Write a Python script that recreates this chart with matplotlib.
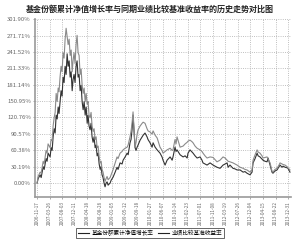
import matplotlib.pyplot as plt

plt.rcParams['font.family'] = ['Noto Sans CJK SC', 'DejaVu Sans']

# 交易日序号（从 2006-11-17 起）
days = [0, 7, 21, 28, 42, 49, 62, 69, 76, 90, 97, 104, 111, 118, 125, 132, 139, 146, 152, 159,
        166, 173, 180, 187, 194, 201, 208, 215, 222, 229, 236, 243, 249, 256, 263, 270, 277, 284, 291, 298,
        305, 312, 319, 326, 333, 340, 347, 353, 360, 367, 374, 381, 388, 395, 402, 409, 416, 423, 430, 437,
        444, 450, 457, 464, 471, 478, 485, 492, 506, 513, 527, 541, 554, 561, 575, 589, 596, 610, 624, 631,
        644, 651, 658, 665, 672, 679, 686, 693, 700, 714, 728, 735, 748, 762, 769, 783, 797, 804, 818, 832,
        845, 852, 866, 873, 887, 901, 922, 936, 942, 956, 963, 970, 991, 1012, 1026, 1040, 1046, 1060, 1074, 1081,
        1095, 1109, 1130, 1143, 1150, 1164, 1178, 1199, 1220, 1234, 1247, 1268, 1289, 1303, 1317, 1324, 1337, 1358, 1372, 1386,
        1407, 1428, 1441, 1455, 1476, 1490, 1497, 1511, 1525, 1532, 1545, 1559, 1566, 1580, 1594, 1601, 1615, 1628, 1635, 1649,
        1663, 1677, 1684, 1698, 1705, 1719, 1733, 1739, 1753]

# 基金份额累计净值增长率 (%)
fund = [0, 8, 15, 10, 30, 25, 45, 40, 55, 48, 65, 60, 85, 100, 92, 125, 118, 140, 128, 150,
        170, 160, 195, 185, 215, 200, 238, 215, 225, 195, 205, 170, 190, 200, 185, 215, 225, 195, 200, 170,
        180, 150, 135, 150, 125, 140, 110, 125, 105, 98, 110, 85, 75, 85, 65, 70, 50, 55, 35, 25,
        30, 15, 10, 0, -7, 0, 2, -4, 0, 5, 11, 20, 29, 25, 37, 35, 42, 48, 55, 52,
        74, 80, 98, 125, 95, 65, 60, 66, 70, 79, 85, 88, 92, 85, 80, 74, 66, 74, 66, 61,
        57, 55, 48, 42, 33, 42, 48, 42, 48, 66, 58, 61, 52, 48, 50, 46, 55, 61, 57, 55,
        50, 46, 48, 42, 37, 35, 33, 37, 33, 31, 29, 27, 33, 35, 37, 29, 33, 27, 26, 24,
        24, 20, 21, 18, 15, 20, 37, 45, 55, 50, 48, 44, 42, 40, 39, 46, 33, 20, 18, 22,
        24, 30, 33, 29, 31, 29, 28, 27, 20]

# 业绩比较基准收益率 (%)
bench = [0, 12, 20, 18, 40, 35, 60, 55, 72, 65, 80, 78, 105, 120, 130, 165, 150, 175, 168, 195,
         215, 205, 240, 230, 265, 285, 270, 255, 265, 235, 245, 205, 225, 240, 220, 255, 272, 240, 235, 200,
         210, 180, 165, 175, 150, 165, 145, 150, 125, 120, 130, 105, 95, 100, 80, 85, 65, 68, 48, 37,
         40, 25, 20, 10, 3, 8, 12, 6, 10, 15, 25, 37, 48, 45, 55, 58, 61, 64, 66, 70,
         85, 95, 110, 131, 100, 66, 75, 90, 98, 105, 110, 112, 110, 100, 96, 94, 90, 96, 88, 83,
         72, 66, 60, 55, 58, 61, 64, 60, 61, 80, 72, 85, 66, 68, 72, 75, 77, 79, 76, 74,
         68, 64, 61, 58, 55, 50, 46, 48, 47, 43, 39, 42, 48, 46, 42, 40, 39, 37, 35, 33,
         29, 27, 25, 24, 20, 24, 42, 52, 61, 57, 55, 50, 46, 47, 48, 44, 37, 22, 20, 25,
         27, 33, 37, 35, 34, 33, 30, 28, 24]

x_ticks = [0, 87, 174, 261, 348, 435, 522, 609, 696, 783, 870, 957, 1044, 1131, 1218, 1305,
           1392, 1479, 1566, 1653, 1740]
x_labels = ["2006-11-17", "2007-03-26", "2007-08-03", "2007-12-11", "2008-04-18", "2008-08-26",
            "2009-01-05", "2009-05-12", "2009-09-18", "2010-01-27", "2010-06-07", "2010-10-14",
            "2011-02-23", "2011-07-01", "2011-11-08", "2012-03-19", "2012-07-26", "2012-12-04",
            "2013-04-15", "2013-08-22", "2013-12-31"]
y_ticks = [0.00, 30.19, 60.38, 90.57, 120.76, 150.95, 181.14, 211.33, 241.52, 271.71, 301.90]

fig = plt.figure(figsize=(3.0, 2.42), dpi=100)
ax = fig.add_axes([0.117, 0.186, 0.853, 0.735])

l1, = ax.plot(days, fund, color="#333333", linewidth=0.8, label="基金份额累计净值增长率")
l2, = ax.plot(days, bench, color="#8a8a8a", linewidth=0.8, label="业绩比较基准收益率")

ax.set_xlim(-14, 1760)
ax.set_ylim(-25.8, 301.9)
ax.set_xticks(x_ticks)
ax.set_xticklabels(x_labels, rotation=90, fontsize=3.3, color="#666666")
ax.set_yticks(y_ticks)
ax.set_yticklabels([f"{v:.2f}%" for v in y_ticks], fontsize=4.3, color="#666666")
ax.tick_params(axis="both", length=1.5, width=0.5, color="#888888", pad=1.5)
ax.grid(True, linestyle=":", linewidth=0.6, color="#aaaaaa")

for side in ["top", "right"]:
    ax.spines[side].set_visible(False)
for side in ["left", "bottom"]:
    ax.spines[side].set_color("#999999")
    ax.spines[side].set_linewidth(1.2)

fig.text(0.5, 0.962, "基金份额累计净值增长率与同期业绩比较基准收益率的历史走势对比图",
         ha="center", va="center", fontsize=5.8, fontweight="bold", color="#222222")

leg = fig.legend(handles=[l1, l2], loc="lower center", bbox_to_anchor=(0.5, 0.005), ncol=2,
                 fontsize=4.1, frameon=True, fancybox=False, handlelength=2.0,
                 handletextpad=0.4, columnspacing=0.8, borderpad=0.35)
leg.get_frame().set_edgecolor("#222222")
leg.get_frame().set_linewidth(0.6)
for h in leg.get_lines():
    h.set_color("#222222")

fig.savefig("out.png", dpi=100)
